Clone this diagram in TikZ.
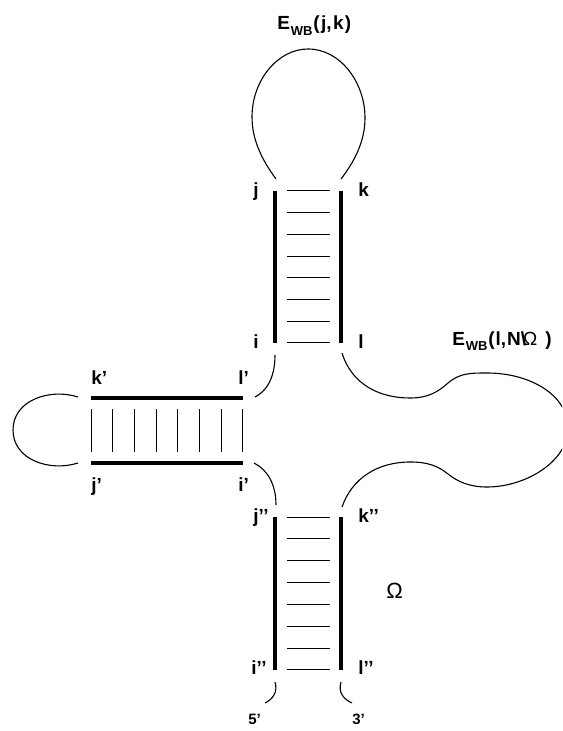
\documentclass[tikz,border=0pt]{standalone}
\usepackage{fontspec}
\setmainfont{Liberation Sans}
\usetikzlibrary{calc}
\tikzset{
  strand/.style={line width=1.6pt},
  rung/.style={line width=0.5pt},
  bb/.style={line width=0.55pt},
  lbl/.style={font=\fontsize{9.5}{11}\selectfont\bfseries, inner sep=0pt, anchor=base west},
  tip/.style={font=\fontsize{7.5}{8}\selectfont\bfseries, inner sep=0pt, anchor=base west}
}
\newcommand{\wb}{\kern.4pt\raisebox{-2.8pt}{\fontsize{6.5}{7}\selectfont WB}\kern.4pt}

\begin{document}
\begin{tikzpicture}[x=0.5pt,y=-0.5pt]
\clip (0,0) rectangle (562,731);
% upper helix
\coordinate (j) at (275,191); \coordinate (k) at (341,191);
\coordinate (i) at (275,343); \coordinate (l) at (341,343);
\draw[strand] (j) -- (i);
\draw[strand] (k) -- (l);
\foreach \n in {0,...,7}
  \draw[rung] (287,{191+21.7*\n}) -- (330,{191+21.7*\n});
% hairpin loop on top
\draw[bb] ($(j)+(1,-12)$) .. controls (262,160) and (252,140) .. (252,117)
  .. controls (252,80) and (278,49) .. (308,49)
  .. controls (340,49) and (365,82) .. (365,118)
  .. controls (365,142) and (354,162) .. ($(k)+(0,-12)$);

% left helix
\coordinate (kp) at (91,398); \coordinate (lp) at (243,398);
\coordinate (jp) at (91,463); \coordinate (ip) at (243,463);
\draw[strand] (kp) -- (lp);
\draw[strand] (jp) -- (ip);
\foreach \n in {0,...,7}
  \draw[rung] ({91+21.7*\n},409) -- ({91+21.7*\n},452);
\draw[bb] ($(kp)+(-13,-1)$) .. controls (50,388) and (13,400) .. (13,430)
  .. controls (13,460) and (50,472) .. ($(jp)+(-13,0)$);

% lower helix
\coordinate (jpp) at (275,517); \coordinate (kpp) at (341,517);
\coordinate (ipp) at (275,670); \coordinate (lpp) at (341,670);
\draw[strand] (jpp) -- (ipp);
\draw[strand] (kpp) -- (lpp);
\foreach \n in {0,...,7}
  \draw[rung] (287,{517+21.85*\n}) -- (330,{517+21.85*\n});

% junction pieces
\draw[bb] ($(i)+(0,12)$) .. controls (275,380) and (265,392) .. ($(lp)+(12,-1)$);
\draw[bb] ($(ip)+(11,0)$) .. controls (268,470) and (276,485) .. ($(jpp)+(1,-12)$);
% big loop on the right
\draw[bb] ($(l)+(1,10)$) .. controls (352,385) and (380,398) .. (410,398)
  .. controls (428,398) and (438,392) .. (448,383)
  .. controls (460,373) and (470,373) .. (487,373)
  .. controls (530,373) and (568,395) .. (568,428)
  .. controls (568,462) and (525,487) .. (487,487)
  .. controls (470,487) and (458,482) .. (448,474)
  .. controls (438,466) and (428,462) .. (410,462)
  .. controls (378,462) and (352,478) .. ($(kpp)+(1,-10)$);
% free ends
\draw[bb] ($(ipp)+(0,12)$) .. controls (278,692) and (273,699) .. (265,703);
\draw[bb] ($(lpp)+(0,12)$) .. controls (338,692) and (343,699) .. (352,703);

% labels
\node[lbl] (ejk) at (277,30) {E\wb(\kern.7pt j,\kern.7pt k\kern.7pt)};
\node[lbl] (ji) at (253,197) {j};
\node[lbl] (ki) at (358,197) {k};
\node[lbl] (ii) at (253,348) {i};
\node[lbl] (li) at (358,348) {l};
\node[lbl] (eln) at (452,345) {E\wb(\kern.5pt l,\kern.5pt N\textbackslash\kern-1.5pt{\mdseries Ω}\hspace{4pt})};
\node[lbl] (kpi) at (91,384) {k’};
\node[lbl] (lpi) at (238,384) {l’};
\node[lbl] (jpi) at (91,491) {j’};
\node[lbl] (ipi) at (238,491) {i’};
\node[lbl] (jppi) at (253,522) {j’’};
\node[lbl] (kppi) at (358,522) {k’’};
\node[lbl] (ippi) at (251,674) {i’’};
\node[lbl] (lppi) at (358,674) {l’’};
\node[font=\fontsize{11}{12}\selectfont, inner sep=0pt] (om) at (394.5,590.5) {Ω};
\node[tip] (five) at (248,724) {5’};
\node[tip] (three) at (352,724) {3’};
\end{tikzpicture}
\end{document}
